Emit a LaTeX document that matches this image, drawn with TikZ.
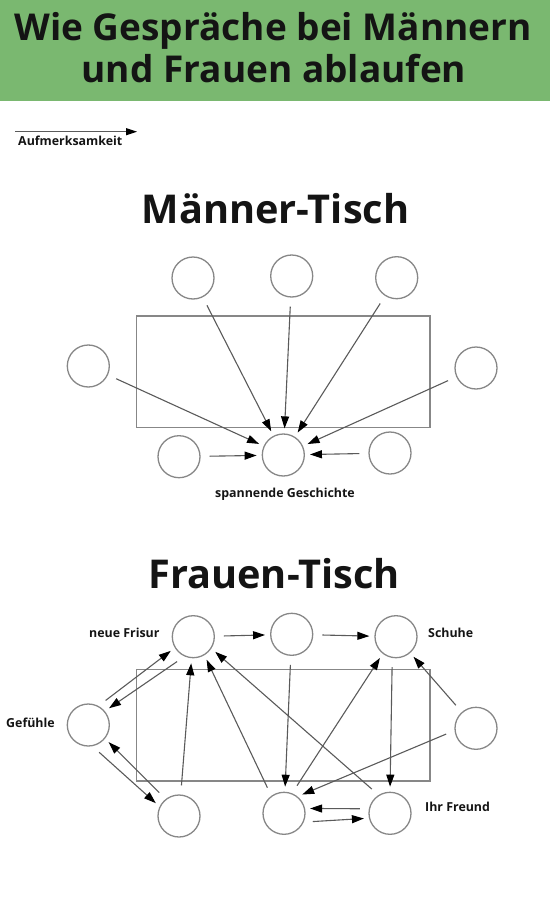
\documentclass[tikz,border=0pt]{standalone}
\usepackage{fontspec}
\setmainfont{Open Sans}
\usetikzlibrary{arrows.meta}
\definecolor{kopfgruen}{RGB}{122,184,112}
\definecolor{stuhlgrau}{RGB}{135,135,135}
\definecolor{pfeilgrau}{RGB}{90,90,90}
\definecolor{schrift}{RGB}{20,20,20}

\begin{document}
\begin{tikzpicture}[x=1pt, y=-1pt,
		platz/.style={circle, draw=stuhlgrau, line width=1.3pt, minimum size=42pt, inner sep=0pt},
		blick/.style={draw=pfeilgrau, line width=1.1pt, -{Triangle[length=12pt, width=8pt, color=black]}, shorten <=9pt, shorten >=5pt},
		tisch/.style={draw=stuhlgrau, line width=1.2pt},
		titel/.style={text=schrift, font=\bfseries\fontsize{37}{40}\selectfont, anchor=base},
		schild/.style={text=schrift, font=\bfseries\fontsize{12.4}{14}\selectfont, anchor=base west, inner sep=0pt}]
	\useasboundingbox (0,0) rectangle (550,899);
	\fill[kopfgruen] (0,0) rectangle (550,101);
	\node[titel] (zeile1) at (273,40.5) {Wie Gespräche bei Männern};
	\node[titel] (zeile2) at (274,82) {und Frauen ablaufen};

	\coordinate (legA) at (15,131.7);
	\coordinate (legB) at (137,131.7);
	\draw[draw=pfeilgrau, line width=1.1pt, -{Triangle[length=11pt, width=7pt, color=black]}] (legA) -- (legB);
	\node[schild] (legende) at (18,145) {Aufmerksamkeit};

	\node[titel, font=\bfseries\fontsize{39.7}{42}\selectfont] (maenner) at (275.5,223) {Männer-Tisch};
	\draw[tisch] (136.7,316) rectangle (430,427.3);
	\node[platz] (mo1) at (193,278) {};
	\node[platz] (mo2) at (291.7,276) {};
	\node[platz] (mo3) at (396.7,277.7) {};
	\node[platz] (ml) at (88.3,366) {};
	\node[platz] (mr) at (476,368) {};
	\node[platz] (mu1) at (179,456.7) {};
	\node[platz] (mgesch) at (283.3,455) {};
	\node[platz] (mu3) at (390,453) {};
	\node[schild, anchor=base] (spannend) at (285,497) {spannende Geschichte};
	\foreach \wer in {mo1,mo2,mo3,ml,mr,mu1,mu3}
		\draw[blick] (\wer) -- (mgesch);

	\node[titel, font=\bfseries\fontsize{39.7}{42}\selectfont] (frauen) at (274,588) {Frauen-Tisch};
	\draw[tisch] (136.7,669.3) rectangle (430,781);
	\node[platz] (frisur) at (193.3,636.7) {};
	\node[platz] (fo2) at (291.7,634.3) {};
	\node[platz] (schuhe) at (396,636.7) {};
	\node[platz] (gefuehle) at (88.3,725) {};
	\node[platz] (fr) at (476,728.3) {};
	\node[platz] (fu1) at (179,816) {};
	\node[platz] (fu2) at (284,813.3) {};
	\node[platz] (freund) at (390,813.3) {};
	\node[schild] (lfrisur) at (89,637.5) {neue Frisur};
	\node[schild] (lgefuehle) at (6,727) {Gefühle};
	\node[schild] (lschuhe) at (428,637.5) {Schuhe};
	\node[schild] (lfreund) at (425,811) {Ihr Freund};

	\draw[blick] (gefuehle.62) -- (frisur.211);
	\draw[blick] (frisur.246) -- (gefuehle.40);
	\draw[blick] (gefuehle.-79) -- (fu1.154);
	\draw[blick] (fu1.128) -- (gefuehle.-39);
	\draw[blick] (fu1) -- (frisur);
	\draw[blick] (fu2.126) -- (frisur.-59);
	\draw[blick] (freund.122) -- (frisur.-33);
	\draw[blick] (frisur) -- (fo2);
	\draw[blick] (fo2) -- (schuhe);
	\draw[blick] (fo2) -- (fu2);
	\draw[blick] (fu2.68) -- (schuhe.232);
	\draw[blick] (schuhe.-100) -- (freund.north);
	\draw[blick] (fr) -- (schuhe);
	\draw[blick] (fr.186) -- (fu2.51);
	\draw[blick] (freund.168) -- (fu2.13);
	\draw[blick] (fu2.-24) -- (freund.193);
\end{tikzpicture}
\end{document}
